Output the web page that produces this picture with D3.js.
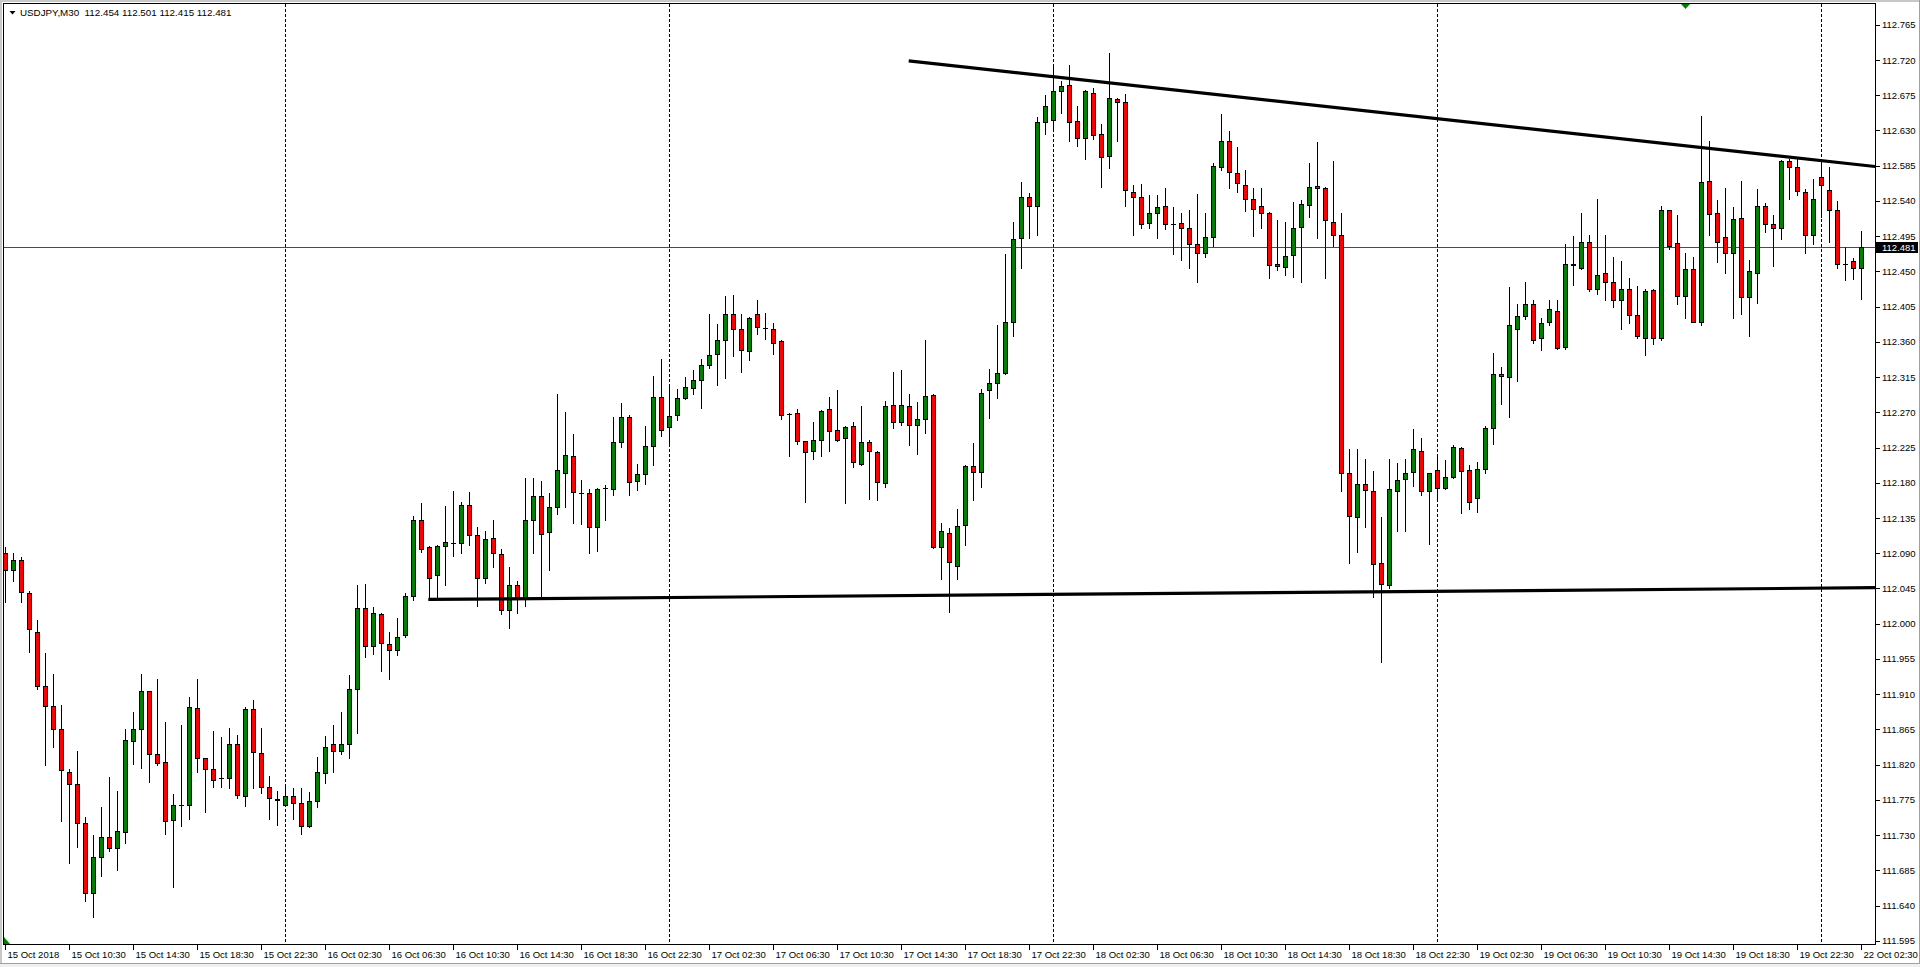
<!DOCTYPE html>
<html>
<head>
<meta charset="utf-8">
<script src="https://cdn.jsdelivr.net/npm/d3@7"></script>
<style>
html,body{margin:0;padding:0;background:#fff;overflow:hidden;}
svg{display:block;}
text{font-family:"Liberation Sans",Arial,sans-serif;}
</style>
</head>
<body>
<svg id="chart" width="1920" height="967"></svg>
<script>
// ---------- data (USDJPY M30, bar 0 = 15 Oct 2018 06:30) ----------
const symbolTitle = "USDJPY,M30";
const open = [112.090,112.069,112.082,112.039,111.990,111.921,111.895,111.866,111.811,111.795,111.746,111.656,111.702,111.728,111.714,111.734,111.850,111.865,111.914,111.833,111.823,111.749,111.769,111.769,111.892,111.829,111.815,111.803,111.803,111.847,111.780,111.891,111.835,111.792,111.776,111.769,111.780,111.771,111.741,111.774,111.809,111.847,111.838,111.847,111.916,112.020,111.971,112.013,111.974,111.967,111.985,112.035,112.132,112.098,112.062,112.099,112.103,112.103,112.152,112.113,112.058,112.109,112.089,112.018,112.049,112.032,112.132,112.163,112.117,112.149,112.193,112.214,112.167,112.167,112.123,112.173,112.172,112.232,112.264,112.182,112.191,112.227,112.290,112.251,112.266,112.288,112.301,112.311,112.330,112.344,112.363,112.396,112.377,112.348,112.395,112.378,112.377,112.361,112.268,112.269,112.234,112.220,112.235,112.274,112.247,112.237,112.252,112.204,112.232,112.219,112.180,112.280,112.258,112.278,112.254,112.261,112.292,112.098,112.116,112.074,112.126,112.201,112.194,112.299,112.308,112.320,112.386,112.493,112.545,112.533,112.641,112.643,112.681,112.688,112.642,112.621,112.678,112.625,112.597,112.670,112.666,112.552,112.545,112.512,112.524,112.533,112.510,112.512,112.505,112.485,112.474,112.494,112.583,112.616,112.576,112.561,112.542,112.534,112.525,112.460,112.456,112.471,112.507,112.535,112.559,112.556,112.513,112.496,112.192,112.136,112.178,112.170,112.078,112.049,112.169,112.185,112.194,112.221,112.169,112.196,112.173,112.187,112.225,112.196,112.161,112.198,112.250,112.319,112.315,112.376,112.393,112.409,112.365,112.385,112.400,112.353,112.460,112.455,112.488,112.428,112.448,112.436,112.414,112.428,112.394,112.365,112.426,112.365,112.528,112.486,112.419,112.453,112.386,112.565,112.524,112.494,112.473,112.518,112.417,112.448,112.534,112.511,112.505,112.591,112.583,112.551,112.496,112.570,112.554,112.529,112.460,112.463,112.454];
const high = [112.098,112.090,112.085,112.042,112.005,111.962,111.936,111.896,111.815,111.837,111.753,111.730,111.766,111.804,111.786,111.866,111.887,111.936,111.914,111.930,111.875,111.783,111.871,111.906,111.929,111.829,111.863,111.855,111.867,111.858,111.893,111.903,111.867,111.806,111.786,111.795,111.790,111.790,111.785,111.830,111.856,111.871,111.887,111.934,112.049,112.051,112.021,112.014,111.989,112.007,112.039,112.137,112.154,112.099,112.101,112.151,112.169,112.156,112.168,112.123,112.119,112.133,112.095,112.072,112.055,112.186,112.186,112.182,112.167,112.293,112.270,112.242,112.184,112.172,112.173,112.177,112.264,112.282,112.267,112.204,112.253,112.316,112.338,112.302,112.300,112.315,112.324,112.338,112.396,112.383,112.419,112.420,112.396,112.392,112.413,112.397,112.384,112.362,112.269,112.274,112.234,112.258,112.273,112.290,112.299,112.252,112.258,112.278,112.235,112.220,112.284,112.322,112.324,112.294,112.283,112.362,112.294,112.129,112.122,112.147,112.203,112.231,112.300,112.325,112.382,112.472,112.513,112.564,112.550,112.647,112.675,112.714,112.693,112.714,112.661,112.682,112.684,112.638,112.729,112.672,112.677,112.561,112.562,112.547,112.547,112.557,112.532,112.524,112.528,112.549,112.524,112.589,112.651,112.629,112.609,112.579,112.557,112.557,112.526,112.516,112.513,112.539,112.541,112.589,112.615,112.558,112.591,112.525,112.223,112.223,112.211,112.195,112.136,112.210,112.205,112.210,112.249,112.237,112.193,112.217,112.209,112.228,112.226,112.203,112.206,112.252,112.346,112.328,112.430,112.409,112.437,112.413,112.391,112.414,112.413,112.485,112.495,112.524,112.496,112.542,112.496,112.469,112.463,112.442,112.432,112.427,112.427,112.534,112.529,112.522,112.473,112.468,112.648,112.616,112.541,112.556,112.532,112.565,112.465,112.555,112.538,112.522,112.592,112.593,112.593,112.555,112.568,112.593,112.584,112.540,112.481,112.467,112.501];
const low = [112.028,112.055,112.028,111.964,111.917,111.820,111.843,111.748,111.694,111.715,111.646,111.626,111.678,111.710,111.686,111.720,111.821,111.816,111.798,111.819,111.732,111.664,111.741,111.750,111.810,111.760,111.791,111.792,111.790,111.778,111.767,111.790,111.784,111.750,111.743,111.767,111.750,111.732,111.740,111.766,111.797,111.810,111.833,111.829,111.861,111.957,111.961,111.940,111.930,111.960,111.983,112.030,112.092,112.031,112.031,112.049,112.086,112.090,112.101,112.022,112.052,112.072,112.013,111.995,112.014,112.022,112.090,112.034,112.068,112.140,112.149,112.129,112.128,112.090,112.093,112.132,112.165,112.226,112.165,112.171,112.178,112.203,112.240,112.229,112.260,112.287,112.294,112.276,112.327,112.305,112.314,112.342,112.322,112.337,112.370,112.364,112.344,112.262,112.214,112.229,112.155,112.211,112.214,112.220,112.234,112.154,112.200,112.203,112.159,112.158,112.175,112.250,112.254,112.228,112.217,112.244,112.097,112.057,112.015,112.057,112.101,112.158,112.175,112.263,112.288,112.319,112.368,112.455,112.493,112.497,112.626,112.633,112.652,112.616,112.610,112.593,112.619,112.558,112.582,112.616,112.533,112.496,112.506,112.506,112.493,112.504,112.472,112.464,112.455,112.437,112.468,112.482,112.580,112.556,112.551,112.527,112.495,112.506,112.441,112.452,112.446,112.443,112.437,112.520,112.493,112.441,112.482,112.169,112.077,112.091,112.123,112.034,111.951,112.045,112.118,112.118,112.176,112.164,112.102,112.161,112.172,112.186,112.142,112.146,112.143,112.192,112.230,112.281,112.264,112.310,112.389,112.359,112.349,112.382,112.351,112.351,112.433,112.453,112.425,112.421,112.414,112.405,112.377,112.384,112.365,112.343,112.357,112.362,112.479,112.409,112.390,112.385,112.382,112.497,112.462,112.448,112.391,112.396,112.367,112.410,112.500,112.457,112.492,112.542,112.548,112.474,112.485,112.520,112.488,112.455,112.439,112.440,112.415];
const close = [112.069,112.081,112.041,111.993,111.921,111.895,111.865,111.813,111.795,111.746,111.656,111.702,111.727,111.714,111.735,111.851,111.865,111.914,111.833,111.822,111.748,111.769,111.769,111.893,111.829,111.814,111.801,111.803,111.846,111.781,111.891,111.836,111.791,111.777,111.775,111.780,111.771,111.741,111.774,111.810,111.842,111.838,111.847,111.916,112.020,111.971,112.014,111.975,111.967,111.983,112.035,112.132,112.096,112.059,112.099,112.104,112.103,112.152,112.113,112.058,112.108,112.090,112.017,112.049,112.032,112.133,112.163,112.115,112.149,112.196,112.215,112.168,112.167,112.124,112.172,112.173,112.232,112.264,112.181,112.191,112.227,112.290,112.247,112.265,112.288,112.303,112.311,112.331,112.343,112.362,112.396,112.377,112.349,112.391,112.379,112.378,112.359,112.267,112.268,112.234,112.219,112.235,112.272,112.246,112.235,112.251,112.206,112.232,112.220,112.181,112.278,112.258,112.280,112.254,112.262,112.291,112.098,112.118,112.079,112.125,112.201,112.194,112.295,112.307,112.320,112.385,112.492,112.545,112.533,112.641,112.661,112.681,112.687,112.641,112.621,112.680,112.624,112.596,112.671,112.666,112.554,112.545,112.511,112.524,112.532,112.510,112.510,112.505,112.485,112.474,112.494,112.585,112.616,112.577,112.563,112.542,112.530,112.525,112.458,112.457,112.470,112.505,112.536,112.558,112.556,112.516,112.496,112.193,112.137,112.179,112.171,112.076,112.051,112.172,112.183,112.193,112.223,112.169,112.192,112.173,112.187,112.226,112.195,112.156,112.198,112.250,112.319,112.316,112.382,112.393,112.408,112.363,112.384,112.402,112.352,112.460,112.458,112.488,112.428,112.446,112.437,112.413,112.428,112.394,112.367,112.425,112.365,112.528,112.483,112.419,112.453,112.386,112.564,112.523,112.488,112.473,112.517,112.417,112.450,112.533,112.510,112.505,112.591,112.583,112.553,112.497,112.542,112.560,112.528,112.460,112.460,112.454,112.481];

const priceTicks = [111.595,111.640,111.685,111.730,111.775,111.820,111.865,111.910,111.955,112.000,112.045,112.090,112.135,112.180,112.225,112.270,112.315,112.360,112.405,112.450,112.495,112.540,112.585,112.630,112.675,112.720,112.765];
const timeTickIndex = [0,8,16,24,32,40,48,56,64,72,80,88,96,104,112,120,128,136,144,152,160,168,176,184,192,200,208,216,224,232];
const timeTickLabels = ["15 Oct 2018","15 Oct 10:30","15 Oct 14:30","15 Oct 18:30","15 Oct 22:30","16 Oct 02:30","16 Oct 06:30","16 Oct 10:30","16 Oct 14:30","16 Oct 18:30","16 Oct 22:30","17 Oct 02:30","17 Oct 06:30","17 Oct 10:30","17 Oct 14:30","17 Oct 18:30","17 Oct 22:30","18 Oct 02:30","18 Oct 06:30","18 Oct 10:30","18 Oct 14:30","18 Oct 18:30","18 Oct 22:30","19 Oct 02:30","19 Oct 06:30","19 Oct 10:30","19 Oct 14:30","19 Oct 18:30","19 Oct 22:30","22 Oct 02:30"];
const daySeparatorIndex = [35,83,131,179,227];
const currentPrice = 112.481;
// trend lines: [bar index, price] endpoints
const resistanceLine = [[112.9,112.719],[233.7,112.584]];
const supportLine = [[52.85,112.031],[233.7,112.046]];
const markerIndex = 210;

// ---------- layout ----------
const W = 1920, H = 967;
const frame = {left:3.5, top:3.5, right:1875.5, bottom:944.5};
const GREEN = "#008000", RED = "#ff0000";

const svg = d3.select("#chart");
const x = d3.scaleLinear().domain([0, 232]).range([5.5, 1861.5]);
const y = d3.scaleLinear().domain([111.595, 112.765]).range([940.8, 24.8]);

// window background / borders
svg.append("rect").attr("x",0).attr("y",0).attr("width",W).attr("height",H).attr("fill","#ffffff");
svg.append("rect").attr("x",0).attr("y",0).attr("width",W).attr("height",2).attr("fill","#c8c8c8");
svg.append("rect").attr("x",0).attr("y",0).attr("width",2).attr("height",H).attr("fill","#c8c8c8");
svg.append("rect").attr("x",0).attr("y",964).attr("width",W).attr("height",3).attr("fill","#f0f0f0");
svg.append("line").attr("x1",0).attr("x2",W).attr("y1",963.5).attr("y2",963.5).attr("stroke","#a0a0a0");
svg.append("line").attr("x1",1919.5).attr("x2",1919.5).attr("y1",0).attr("y2",964).attr("stroke","#a0a0a0");

svg.append("clipPath").attr("id","plotClip").append("rect")
  .attr("x",frame.left+0.5).attr("y",frame.top+0.5)
  .attr("width",frame.right-frame.left-1).attr("height",frame.bottom-frame.top-1);

const plot = svg.append("g").attr("clip-path","url(#plotClip)");

// day separators
plot.selectAll("line.sep").data(daySeparatorIndex).enter().append("line")
  .attr("class","sep")
  .attr("x1",d=>x(d)).attr("x2",d=>x(d))
  .attr("y1",frame.top).attr("y2",frame.bottom)
  .attr("stroke","#000").attr("stroke-width",1).attr("stroke-dasharray","3,2")
  .attr("shape-rendering","crispEdges");

// current price line
plot.append("line")
  .attr("x1",frame.left).attr("x2",frame.right)
  .attr("y1",Math.round(y(currentPrice))+0.5).attr("y2",Math.round(y(currentPrice))+0.5)
  .attr("stroke",GREEN).attr("stroke-width",1).attr("shape-rendering","crispEdges");

// candles
const bars = d3.range(open.length).map(i=>({i,o:open[i],h:high[i],l:low[i],c:close[i]}));
const g = plot.append("g");
g.selectAll("line.wick").data(bars).enter().append("line")
  .attr("x1",d=>x(d.i)).attr("x2",d=>x(d.i))
  .attr("y1",d=>Math.round(y(d.h))).attr("y2",d=>Math.round(y(d.l))+1)
  .attr("stroke","#000").attr("stroke-width",1).attr("shape-rendering","crispEdges");

g.selectAll("rect.body").data(bars.filter(d=>d.o!==d.c)).enter().append("rect")
  .attr("x",d=>x(d.i)-2)
  .attr("y",d=>Math.round(y(Math.max(d.o,d.c)))+0.5)
  .attr("width",4)
  .attr("height",d=>Math.max(1,Math.round(y(Math.min(d.o,d.c)))-Math.round(y(Math.max(d.o,d.c)))))
  .attr("fill",d=>d.c>d.o?GREEN:RED)
  .attr("stroke","#000").attr("stroke-width",1).attr("shape-rendering","crispEdges");

g.selectAll("line.doji").data(bars.filter(d=>d.o===d.c)).enter().append("line")
  .attr("x1",d=>x(d.i)-2.5).attr("x2",d=>x(d.i)+2.5)
  .attr("y1",d=>Math.round(y(d.o))+0.5).attr("y2",d=>Math.round(y(d.o))+0.5)
  .attr("stroke","#000").attr("stroke-width",1).attr("shape-rendering","crispEdges");

// trend lines
[resistanceLine, supportLine].forEach(tl=>{
  plot.append("line")
    .attr("x1",x(tl[0][0])).attr("y1",y(tl[0][1]))
    .attr("x2",x(tl[1][0])).attr("y2",y(tl[1][1]))
    .attr("stroke","#000").attr("stroke-width",3.2).attr("stroke-linecap","butt");
});

// marker triangle at top
plot.append("path")
  .attr("d",`M${x(markerIndex)-4.5},4 L${x(markerIndex)+4.5},4 L${x(markerIndex)},9 Z`)
  .attr("fill",GREEN);

// frame
svg.append("rect").attr("x",frame.left).attr("y",frame.top)
  .attr("width",frame.right-frame.left).attr("height",frame.bottom-frame.top)
  .attr("fill","none").attr("stroke","#000").attr("stroke-width",1).attr("shape-rendering","crispEdges");

// bottom-left shift marker
svg.append("path").attr("d","M4,937 L4,944 L10,944 Z").attr("fill",GREEN);

// price axis
const pa = svg.append("g");
pa.selectAll("line").data(priceTicks).enter().append("line")
  .attr("x1",frame.right).attr("x2",frame.right+4)
  .attr("y1",d=>Math.round(y(d))+0.5).attr("y2",d=>Math.round(y(d))+0.5)
  .attr("stroke","#000").attr("shape-rendering","crispEdges");
pa.selectAll("text").data(priceTicks).enter().append("text")
  .attr("x",1882).attr("y",d=>y(d)+3.5)
  .attr("font-size","9.5px").attr("fill","#000")
  .text(d=>d3.format(".3f")(d));

// current price label
const cy = Math.round(y(currentPrice));
svg.append("rect").attr("x",1876).attr("y",cy-5).attr("width",42).attr("height",11).attr("fill","#000");
svg.append("text").attr("x",1882).attr("y",cy+4).attr("font-size","9.5px").attr("fill","#fff")
  .text(d3.format(".3f")(currentPrice));

// time axis
const ta = svg.append("g");
ta.selectAll("line").data(timeTickIndex).enter().append("line")
  .attr("x1",d=>x(d)).attr("x2",d=>x(d))
  .attr("y1",frame.bottom).attr("y2",frame.bottom+5)
  .attr("stroke","#000").attr("shape-rendering","crispEdges");
ta.selectAll("text").data(timeTickIndex).enter().append("text")
  .attr("x",d=>x(d)+2).attr("y",958)
  .attr("font-size","9.5px").attr("fill","#000")
  .text((d,k)=>timeTickLabels[k]);

// header
svg.append("path").attr("d","M9.5,11 L15.5,11 L12.5,14.5 Z").attr("fill","#000");
svg.append("text").attr("x",20).attr("y",16).attr("font-size","9.8px").attr("fill","#000")
  .attr("xml:space","preserve").style("white-space","pre")
  .text(symbolTitle + "  " + [open[232],high[232],low[232],close[232]].map(d3.format(".3f")).join(" "));
</script>
</body>
</html>
